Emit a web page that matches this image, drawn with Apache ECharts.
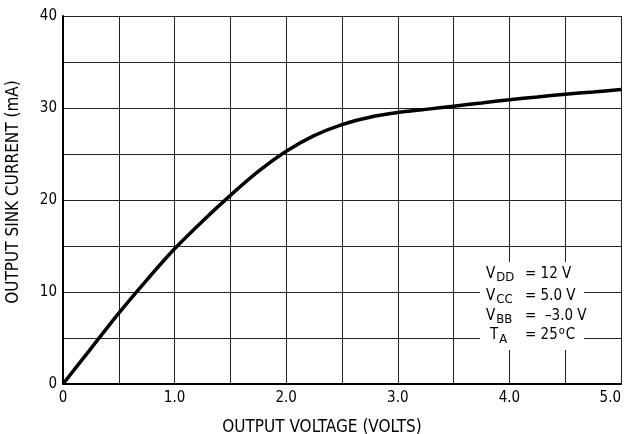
<!DOCTYPE html>
<html><head><meta charset="utf-8">
<script src="https://cdn.jsdelivr.net/npm/echarts@6/dist/echarts.min.js"></script>
<style>html,body{margin:0;padding:0;background:#fff;overflow:hidden;width:626px;height:434px}#c{width:626px;height:434px;overflow:hidden}</style>
</head><body><div id="c"></div>
<script>
var voltage = [0, 0.25, 0.5, 0.75, 1.0, 1.25, 1.5, 1.75, 2.0, 2.25, 2.5, 2.75, 3.0, 3.25, 3.5, 3.75, 4.0, 4.25, 4.5, 4.75, 5.0];
var sinkCurrent = [0, 3.85, 7.7, 11.3, 14.7, 17.7, 20.5, 23.1, 25.3, 27.0, 28.2, 29.0, 29.5, 29.85, 30.2, 30.55, 30.9, 31.2, 31.5, 31.75, 32.0];
var xTickLabels = ['0', '1.0', '2.0', '3.0', '4.0', '5.0'];
var yTickLabels = ['0', '10', '20', '30', '40'];
var condSymbols = ['V', 'V', 'V', 'T'];
var condSubscripts = ['DD', 'CC', 'BB', 'A'];
var condValues = ['= 12 V', '= 5.0 V', '=  \u20133.0 V', '= 25'];
var tempSuffix = ['o', 'C'];

var FONT = '"Liberation Sans Narrow", "DejaVu Sans Condensed", "Liberation Sans", sans-serif';
var chart = echarts.init(document.getElementById('c'), null, {renderer: 'canvas', width: 626, height: 434});

var mctx = document.createElement('canvas').getContext('2d');
function tw(t, f) { mctx.font = f; return mctx.measureText(t).width; }

var F15 = '15px ' + FONT, F13 = '13px ' + FONT, F11 = '11px ' + FONT;
var graphics = [];
graphics.push({type: 'rect', shape: {x: 480, y: 262, width: 104, height: 88}, style: {fill: '#fff'}, z: 50});
var rows = [274, 296, 316, 335.5];
condSymbols.forEach(function (s, i) {
  var y = rows[i];
  var sx = s === 'T' ? 490 : 486;
  graphics.push({type: 'text', x: sx, y: y, z: 51, style: {text: s, font: F15, fill: '#000', verticalAlign: 'middle'}});
  graphics.push({type: 'text', x: sx + tw(s, F15) + 1, y: y + 4, z: 51, style: {text: condSubscripts[i], font: F13, fill: '#000', verticalAlign: 'middle'}});
  graphics.push({type: 'text', x: 525, y: y, z: 51, style: {text: condValues[i], font: F15, fill: '#000', verticalAlign: 'middle'}});
  if (i === 3) {
    var ox = 525 + tw(condValues[i], F15) + 1;
    graphics.push({type: 'text', x: ox, y: y - 4, z: 51, style: {text: tempSuffix[0], font: F11, fill: '#000', verticalAlign: 'middle'}});
    graphics.push({type: 'text', x: ox + tw(tempSuffix[0], F11) + 1, y: y, z: 51, style: {text: tempSuffix[1], font: F15, fill: '#000', verticalAlign: 'middle'}});
  }
});

chart.setOption({
  animation: false,
  backgroundColor: '#fff',
  grid: {left: 63, right: 5, top: 16, bottom: 50, containLabel: false, outerBoundsMode: 'none'},
  xAxis: {
    type: 'value', min: 0, max: 5, interval: 0.5,
    name: 'OUTPUT VOLTAGE (VOLTS)', nameLocation: 'middle', nameGap: 35,
    nameTextStyle: {fontFamily: FONT, fontSize: 17, color: '#000', padding: [0, 40, 0, 0]},
    axisLine: {show: true, lineStyle: {color: '#000', width: 2}},
    axisTick: {show: false},
    axisLabel: {
      fontFamily: FONT, fontSize: 15, color: '#000', margin: 7, hideOverlap: false, alignMaxLabel: 'right',
      formatter: function (v) { var r = Math.round(v * 10) / 10; return (Math.abs(r - Math.round(r)) < 1e-6) ? xTickLabels[Math.round(r)] : ''; }
    },
    splitLine: {show: true, lineStyle: {color: '#222', width: 1}}
  },
  yAxis: {
    type: 'value', min: 0, max: 40, interval: 5,
    name: 'OUTPUT SINK CURRENT (mA)', nameLocation: 'middle', nameGap: 41,
    nameTextStyle: {fontFamily: FONT, fontSize: 17, color: '#000', padding: [0, 0, 0, 16]},
    axisLine: {show: true, lineStyle: {color: '#000', width: 2}},
    axisTick: {show: false},
    axisLabel: {
      fontFamily: FONT, fontSize: 15, color: '#000', margin: 6,
      formatter: function (v) { return (v % 10 === 0) ? yTickLabels[v / 10] : ''; }
    },
    splitLine: {show: true, lineStyle: {color: '#222', width: 1}}
  },
  series: [{
    type: 'line', smooth: 0.3, showSymbol: false,
    data: voltage.map(function (x, i) { return [x, sinkCurrent[i]]; }),
    lineStyle: {color: '#000', width: 3.5}, z: 10
  }],
  graphic: graphics
});
</script></body></html>
